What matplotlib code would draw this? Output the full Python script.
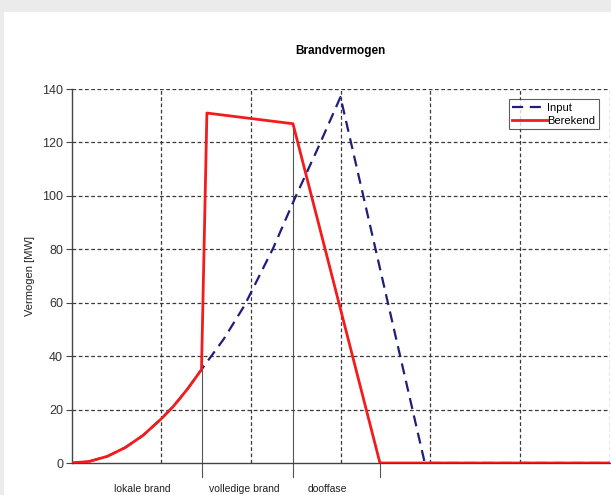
import matplotlib
matplotlib.use("Agg")
import matplotlib.pyplot as plt
from matplotlib.patches import Rectangle

plt.rcParams["font.family"] = ["Liberation Sans", "DejaVu Sans"]

# Input curve (time in min, power in MW).
input_t = [0, 2, 4, 6, 8, 10, 11.3, 12, 13, 14.5, 17, 19.3, 22.5, 24.9, 27.5, 30, 39.4, 60]
input_p = [0, 0.6, 2.5, 5.8, 10.4, 16.5, 21, 23.8, 28, 35, 46.5, 59, 80.5, 99, 118, 137, 0, 0]

# Calculated curve.
calc_t = [0, 2, 4, 6, 8, 10, 11.3, 12, 13, 14.5, 15.1, 24.7, 34.4, 60]
calc_p = [0, 0.6, 2.5, 5.8, 10.4, 16.5, 21, 23.8, 28, 35, 131, 127, 0, 0]

# Phase boundaries and labels.
phase_t = [14.5, 24.7, 34.4]
phase_top = [35, 127, 0]
phase_labels = ["lokale brand", "volledige brand", "dooffase"]
phase_label_t = [7.9, 19.3, 28.5]

y_ticks = [0, 20, 40, 60, 80, 100, 120, 140]

fig = plt.figure(figsize=(6.11, 4.95), dpi=100)
fig.patch.set_facecolor("#ebebeb")
fig.patches.append(Rectangle((4 / 611, 0), 1, (495 - 12) / 495,
                             transform=fig.transFigure, facecolor="white",
                             edgecolor="none", zorder=-10))

ax = fig.add_axes([71.5 / 611, 32 / 495, 538 / 611, 374 / 495])
ax.set_facecolor("none")

grid_kw = dict(color="#3a3a3a", lw=0.9, ls=(0, (3, 2)), zorder=1)
for y in y_ticks[1:]:
    ax.axhline(y, **grid_kw)
for x in range(10, 61, 10):
    ax.axvline(x, **grid_kw)

# Phase boundary lines, running down past the axis.
for t, top in zip(phase_t, phase_top):
    ax.plot([t, t], [-5.2, top], color="#555555", lw=0.8, clip_on=False, zorder=2)

ax.plot(input_t, input_p, color="#1f1f78", lw=1.6, ls=(0, (5, 3)), label="Input", zorder=3)
ax.plot(calc_t, calc_p, color="#f21c1c", lw=2.0, label="Berekend", zorder=4,
        solid_joinstyle="round")

for t, lab in zip(phase_label_t, phase_labels):
    ax.text(t, -7.9, lab, ha="center", va="top", fontsize=7.5, color="#222222")

ax.set_xlim(0, 60)
ax.set_ylim(0, 140)
ax.set_yticks(y_ticks)
ax.set_xticks([])
ax.tick_params(axis="y", length=4, width=0.8, color="#444444", labelsize=9,
               labelcolor="#333333", pad=2)
for side in ["top", "right"]:
    ax.spines[side].set_visible(False)
for side in ["left", "bottom"]:
    ax.spines[side].set_color("#444444")
    ax.spines[side].set_linewidth(1.0)

ax.set_ylabel("Vermogen [MW]", fontsize=8, color="#222222", labelpad=5)
ax.set_title("Brandvermogen", fontsize=8.5, fontweight="bold", pad=25.5)

leg = ax.legend(loc="upper right", bbox_to_anchor=(0.98, 0.972), fontsize=8,
                frameon=True, fancybox=False, handlelength=3.2, handletextpad=0.0,
                borderpad=0.3, labelspacing=0.3, borderaxespad=0)
leg.get_frame().set_edgecolor("#333333")
leg.get_frame().set_linewidth(0.8)
leg.set_zorder(5)

fig.savefig("out.png", dpi=100, facecolor=fig.get_facecolor())
